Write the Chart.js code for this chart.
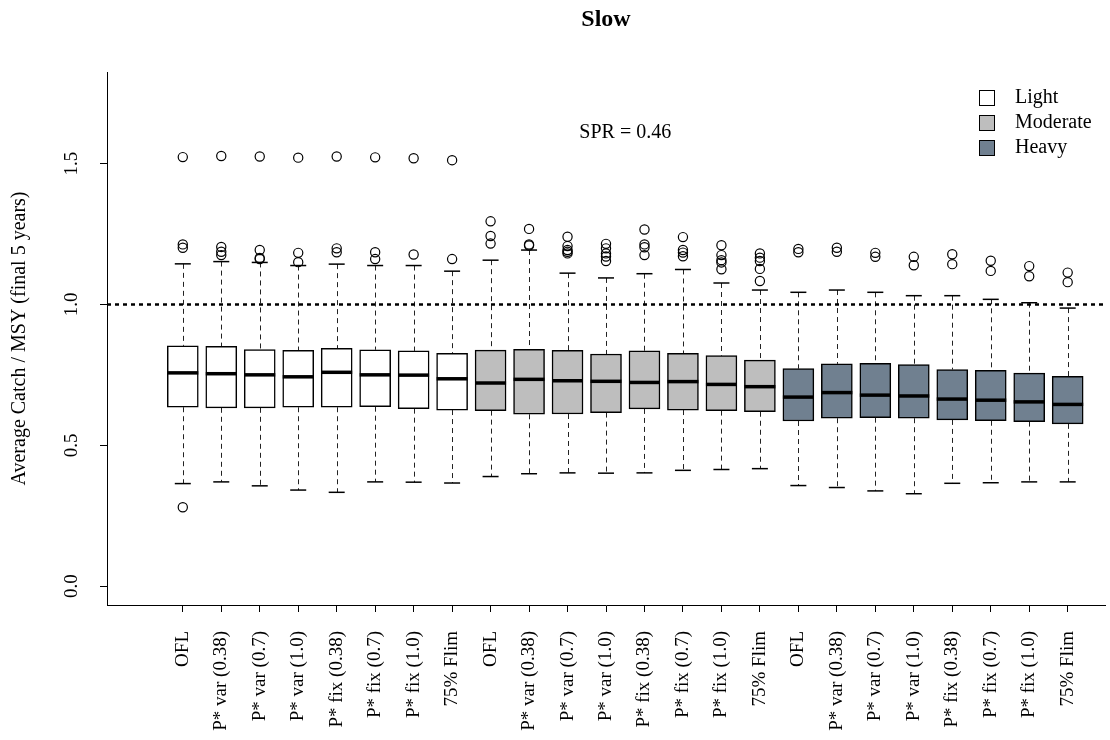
<!DOCTYPE html>
<html>
<head>
<meta charset="utf-8">
<script src="https://cdn.jsdelivr.net/npm/chart.js@4"></script>
<style>
  body { margin: 0; background: #fff; overflow: hidden; }
  canvas { display: block; }
</style>
</head>
<body>
<canvas id="myChart" width="1110" height="740"></canvas>
<script>
const rules = ['OFL', 'P* var (0.38)', 'P* var (0.7)', 'P* var (1.0)', 'P* fix (0.38)', 'P* fix (0.7)', 'P* fix (1.0)', '75% Flim'];
const groupNames = ['Light', 'Moderate', 'Heavy'];
const groupFills = ['#ffffff', '#bebebe', '#708090'];
const yTicks = [0, 0.5, 1.0, 1.5];

// Light
const lightLo  = [0.364, 0.370, 0.356, 0.341, 0.333, 0.370, 0.369, 0.366];
const lightQ1  = [0.635, 0.633, 0.633, 0.635, 0.635, 0.637, 0.630, 0.625];
const lightMed = [0.757, 0.754, 0.750, 0.743, 0.759, 0.750, 0.749, 0.736];
const lightQ3  = [0.853, 0.851, 0.840, 0.837, 0.844, 0.839, 0.835, 0.826];
const lightHi  = [1.144, 1.152, 1.149, 1.138, 1.143, 1.138, 1.138, 1.118];
const lightOut = [[1.523, 1.213, 1.201, 0.280], [1.527, 1.204, 1.187, 1.175], [1.525, 1.193, 1.165, 1.161],
                  [1.521, 1.183, 1.150], [1.525, 1.199, 1.185], [1.522, 1.185, 1.161], [1.519, 1.177], [1.512, 1.161]];

// Moderate
const modLo  = [0.389, 0.399, 0.402, 0.401, 0.402, 0.411, 0.414, 0.417];
const modQ1  = [0.623, 0.610, 0.611, 0.616, 0.629, 0.625, 0.623, 0.619];
const modMed = [0.721, 0.734, 0.729, 0.727, 0.723, 0.726, 0.716, 0.708];
const modQ3  = [0.838, 0.841, 0.837, 0.824, 0.835, 0.826, 0.818, 0.802];
const modHi  = [1.157, 1.193, 1.111, 1.094, 1.109, 1.124, 1.076, 1.051];
const modOut = [[1.295, 1.243, 1.216], [1.268, 1.213, 1.209], [1.240, 1.207, 1.193, 1.187, 1.181],
                [1.215, 1.199, 1.181, 1.170, 1.154], [1.266, 1.213, 1.203, 1.175], [1.239, 1.193, 1.184, 1.171],
                [1.210, 1.175, 1.157, 1.149, 1.125], [1.181, 1.166, 1.154, 1.126, 1.083]];

// Heavy
const heavyLo  = [0.357, 0.350, 0.338, 0.328, 0.365, 0.367, 0.370, 0.370];
const heavyQ1  = [0.586, 0.596, 0.598, 0.596, 0.590, 0.587, 0.584, 0.576];
const heavyMed = [0.671, 0.687, 0.678, 0.675, 0.664, 0.660, 0.654, 0.645];
const heavyQ3  = [0.772, 0.789, 0.791, 0.786, 0.769, 0.766, 0.756, 0.745];
const heavyHi  = [1.043, 1.051, 1.043, 1.031, 1.031, 1.018, 1.006, 0.987];
const heavyOut = [[1.197, 1.185], [1.201, 1.187], [1.183, 1.169], [1.169, 1.139],
                  [1.178, 1.143], [1.155, 1.119], [1.136, 1.100], [1.113, 1.079]];

const msyLine = 1.0;
const sprText = 'SPR = 0.46';

const groups = [
    { lo: lightLo, q1: lightQ1, med: lightMed, q3: lightQ3, hi: lightHi, out: lightOut },
    { lo: modLo, q1: modQ1, med: modMed, q3: modQ3, hi: modHi, out: modOut },
    { lo: heavyLo, q1: heavyQ1, med: heavyMed, q3: heavyQ3, hi: heavyHi, out: heavyOut }
];
const allLabels = groups.flatMap(() => rules);
const pos = (gi, i) => gi * rules.length + i + 1;

const serif = "'Liberation Serif', 'DejaVu Serif', serif";

const boxDatasets = groups.map((g, gi) => ({
    type: 'bar',
    label: groupNames[gi],
    data: g.q1.map((q1, i) => ({ x: pos(gi, i), y: [q1, g.q3[i]] })),
    backgroundColor: groupFills[gi],
    borderColor: '#000',
    borderWidth: 1.5,
    borderSkipped: false,
    barThickness: 31,
    grouped: false,
    order: 2
}));

const medians = groups.flatMap((g, gi) => g.med.map((m, i) => ({ x: pos(gi, i), y: m })));
const caps = groups.flatMap((g, gi) => g.lo.flatMap((lo, i) => [
    { x: pos(gi, i), y: lo }, { x: pos(gi, i), y: g.hi[i] }
]));
const outliers = groups.flatMap((g, gi) => g.out.flatMap((vals, i) => vals.map(v => ({ x: pos(gi, i), y: v }))));

const xMin = -0.97, xMax = 24.97;

const decor = {
    id: 'decor',
    beforeDatasetsDraw(chart) {
        const { ctx, scales: { x, y } } = chart;
        ctx.save();
        ctx.setLineDash([5, 4]);
        ctx.lineWidth = 1;
        ctx.strokeStyle = '#222';
        groups.forEach((g, gi) => {
            g.q1.forEach((q1, i) => {
                const px = Math.round(x.getPixelForValue(pos(gi, i))) + 0.5;
                ctx.beginPath();
                ctx.moveTo(px, y.getPixelForValue(g.hi[i]));
                ctx.lineTo(px, y.getPixelForValue(g.q3[i]));
                ctx.moveTo(px, y.getPixelForValue(q1));
                ctx.lineTo(px, y.getPixelForValue(g.lo[i]));
                ctx.stroke();
            });
        });
        ctx.restore();
    },
    afterDraw(chart) {
        const { ctx, chartArea, scales: { x, y } } = chart;
        ctx.save();
        ctx.fillStyle = '#000';

        // title
        ctx.font = 'bold 24px ' + serif;
        ctx.textAlign = 'center';
        ctx.textBaseline = 'middle';
        ctx.fillText('Slow', (chartArea.left + chartArea.right) / 2, 20);

        // y tick labels, vertical like R
        ctx.font = '19px ' + serif;
        yTicks.forEach(v => {
            ctx.save();
            ctx.translate(72, y.getPixelForValue(v));
            ctx.rotate(-Math.PI / 2);
            ctx.fillText(v.toFixed(1), 0, 0);
            ctx.restore();
        });

        // SPR annotation
        ctx.font = '20px ' + serif;
        ctx.fillText(sprText, x.getPixelForValue(12.5), y.getPixelForValue(1.61));

        // legend
        ctx.textAlign = 'left';
        groupNames.forEach((name, i) => {
            const cy = 98 + i * 25;
            ctx.fillStyle = groupFills[i];
            ctx.fillRect(979, cy - 8, 16, 16);
            ctx.strokeStyle = '#000';
            ctx.lineWidth = 1;
            ctx.strokeRect(979.5, cy - 7.5, 15, 15);
            ctx.fillStyle = '#000';
            ctx.fillText(name, 1015, cy);
        });
        ctx.restore();
    }
};

const ctx = document.getElementById('myChart').getContext('2d');
new Chart(ctx, {
    type: 'bar',
    data: {
        datasets: [
            {
                type: 'scatter',
                label: 'median',
                data: medians,
                pointStyle: 'line',
                pointRadius: 15.5,
                borderColor: '#000',
                borderWidth: 3.5,
                order: 0
            },
            {
                type: 'scatter',
                label: 'whisker',
                data: caps,
                pointStyle: 'line',
                pointRadius: 8,
                borderColor: '#000',
                borderWidth: 1.5,
                order: 1
            },
            {
                type: 'scatter',
                label: 'outlier',
                data: outliers,
                pointStyle: 'circle',
                pointRadius: 4.6,
                backgroundColor: 'rgba(0,0,0,0)',
                borderColor: '#000',
                borderWidth: 1.2,
                order: 1
            },
            ...boxDatasets,
            {
                type: 'line',
                label: 'MSY',
                data: [{ x: xMin, y: msyLine }, { x: xMax, y: msyLine }],
                borderColor: '#000',
                borderWidth: 2.5,
                borderDash: [4, 4],
                pointRadius: 0,
                order: 3
            }
        ]
    },
    options: {
        responsive: false,
        animation: false,
        events: [],
        layout: { autoPadding: false, padding: { top: 72, right: 5, left: 0, bottom: 0 } },
        plugins: {
            legend: { display: false },
            tooltip: { enabled: false }
        },
        scales: {
            x: {
                type: 'linear',
                min: xMin,
                max: xMax,
                offset: false,
                afterBuildTicks: scale => {
                    scale.ticks = allLabels.map((_, i) => ({ value: i + 1 }));
                },
                afterFit: scale => {
                    scale.height = 135;
                    scale.paddingLeft = 0;
                    scale.paddingRight = 0;
                },
                ticks: {
                    autoSkip: false,
                    minRotation: 90,
                    maxRotation: 90,
                    padding: 19,
                    color: '#000',
                    font: { family: serif, size: 19 },
                    callback: v => allLabels[v - 1]
                },
                grid: { drawOnChartArea: false, offset: false, tickLength: 7, color: '#000', lineWidth: 1 },
                border: { display: true, color: '#000', width: 1 }
            },
            y: {
                min: -0.067,
                max: 1.825,
                afterBuildTicks: scale => {
                    scale.ticks = yTicks.map(v => ({ value: v }));
                },
                afterFit: scale => { scale.width = 107; },
                ticks: { display: false },
                grid: { drawOnChartArea: false, tickLength: 7, color: '#000', lineWidth: 1 },
                border: { display: true, color: '#000', width: 1 },
                title: {
                    display: true,
                    text: 'Average Catch / MSY (final 5 years)',
                    color: '#000',
                    font: { family: serif, size: 20 },
                    padding: { top: 8, bottom: 0 }
                }
            }
        }
    },
    plugins: [decor]
});
</script>
</body>
</html>
